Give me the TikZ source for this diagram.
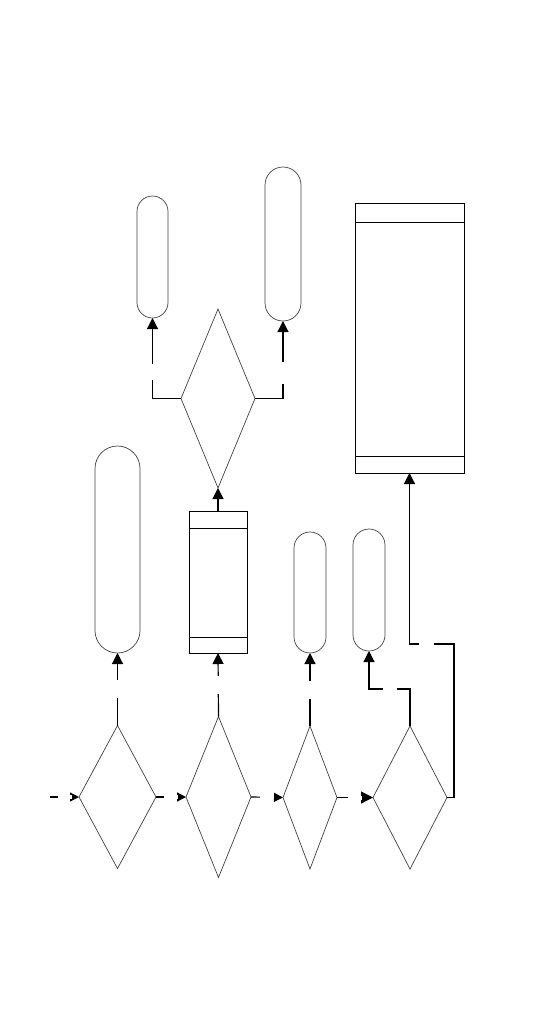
\documentclass[tikz,border=0pt]{standalone}
\usetikzlibrary{shapes.geometric,arrows.meta,calc}
\begin{document}
\begin{tikzpicture}[x=1pt,y=-1pt,
  dec/.style={diamond,draw=black!75,line width=0.7pt,inner sep=0pt,outer sep=0pt},
  term/.style={rectangle,draw=black!75,line width=0.7pt,inner sep=0pt,outer sep=0pt},
  proc/.style={rectangle,draw=black,line width=1pt,inner sep=0pt,outer sep=0pt},
  conn/.style={draw=black,line width=1.2pt},
  arr/.style={conn,-{Triangle[length=9pt,width=9pt]}},
  varr/.style={conn,-{Triangle[length=11pt,width=11pt]}},
  bigarr/.style={conn,-{Triangle[length=12pt,width=12pt]}},
  hgap/.style={fill=white,inner sep=0pt,minimum width=14pt,minimum height=4pt},
  vgap/.style={fill=white,inner sep=0pt,minimum width=4pt,minimum height=18pt}]
\useasboundingbox (0,0) rectangle (540,1026);
% decisions
\node[dec,minimum width=77pt,minimum height=143pt] (d1) at (117.5,797) {};
\node[dec,minimum width=65pt,minimum height=161pt] (d2) at (218.5,797) {};
\node[dec,minimum width=54pt,minimum height=143pt] (d3) at (310,797.5) {};
\node[dec,minimum width=74pt,minimum height=143pt] (d4) at (410,797.5) {};
\node[dec,minimum width=74pt,minimum height=179pt] (u) at (218,398.5) {};
% terminals
\node[term,minimum width=45pt,minimum height=207pt,rounded corners=22.5pt] (t1) at (117.5,549.5) {};
\node[term,minimum width=32pt,minimum height=121pt,rounded corners=16pt] (t3) at (310,592.5) {};
\node[term,minimum width=32pt,minimum height=122pt,rounded corners=16pt] (t4) at (369,590) {};
\node[term,minimum width=31pt,minimum height=122pt,rounded corners=15.5pt] (ta) at (152.5,257) {};
\node[term,minimum width=36pt,minimum height=154pt,rounded corners=18pt] (tb) at (283,244) {};
% processes
\node[proc,minimum width=58pt,minimum height=142pt] (p2) at (218,582) {};
\draw[line width=1pt] ($(p2.north west)+(0,17)$) -- ($(p2.north east)+(0,17)$);
\draw[line width=1pt] ($(p2.south west)+(0,-16)$) -- ($(p2.south east)+(0,-16)$);
\node[proc,minimum width=109pt,minimum height=270pt] (pb) at (409.5,338) {};
\draw[line width=1pt] ($(pb.north west)+(0,19)$) -- ($(pb.north east)+(0,19)$);
\draw[line width=1pt] ($(pb.south west)+(0,-17)$) -- ($(pb.south east)+(0,-17)$);
% connectors along bottom row
\coordinate (in) at (50,797);
\draw[arr] (in) -- node[hgap]{} (d1.west);
\draw[arr] (d1.east) -- node[hgap]{} (d2.west);
\draw[arr] (d2.east) -- node[hgap]{} (d3.west);
\draw[bigarr] (d3.east) -- node[hgap]{} (d4.west);
% upward connectors
\draw[varr] (d1.north) -- node[vgap]{} (t1.south);
\draw[varr] (d2.north) -- node[vgap]{} (p2.south);
\draw[varr] (d3.north) -- node[vgap]{} (t3.south);
\draw[varr] (p2.north) -- (u.south);
% upper decision branches
\coordinate (l1) at (ta.south |- u.west);
\draw[varr] (u.west) -- (l1) -- node[pos=0.325,vgap,minimum height=16pt]{} (ta.south);
\coordinate (r1) at (tb.south |- u.east);
\draw[varr] (u.east) -- (r1) -- node[pos=0.325,vgap,minimum height=22pt]{} (tb.south);
% d4 top to t4
\coordinate (k1) at ($(d4.north)+(0,-37)$);
\coordinate (k2) at (t4.south |- k1);
\draw[varr] (d4.north) -- (k1) -- node[hgap]{} (k2) -- (t4.south);
% d4 right to big process
\coordinate (m1) at ($(d4.east)+(7,0)$);
\coordinate (m2) at (454,644);
\coordinate (m3) at (pb.south |- m2);
\draw[varr] (d4.east) -- (m1) -- (m2) -- node[pos=0.61,hgap,minimum width=15pt]{} (m3) -- (pb.south);
\end{tikzpicture}
\end{document}
